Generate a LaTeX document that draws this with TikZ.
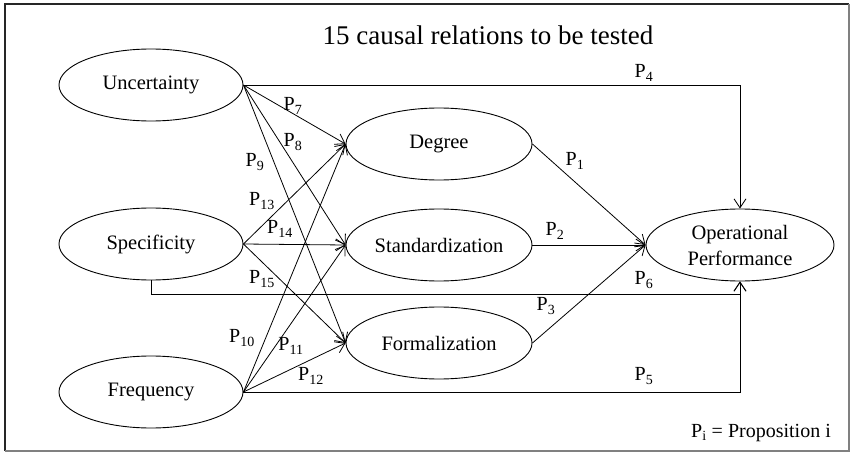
\documentclass[tikz,border=0pt]{standalone}
\usepackage{fontspec}
\setmainfont{Liberation Serif}
\usetikzlibrary{shapes.geometric,arrows.meta}
\begin{document}
\begin{tikzpicture}[x=1pt,y=-1pt,
  oval/.style={ellipse,draw,line width=0.9pt,minimum width=184pt,minimum height=72pt,inner sep=0pt,font=\fontsize{20.5}{26}\selectfont},
  arr/.style={line width=0.8pt,-{Straight Barb[length=9pt,width=12pt,line width=0.8pt]}},
  lbl/.style={inner sep=0pt,font=\fontsize{20}{24}\selectfont}]
\useasboundingbox (0,0) rectangle (852,452);
% frame
\draw[line width=2pt,black!85] (5,451) -- (5,4) -- (849,4);
\draw[line width=1.5pt,black!50] (849,4) -- (849,451) -- (5,451);
% title
\node[inner sep=0pt,font=\fontsize{27}{30}\selectfont] (title) at (488,35) {15 causal relations to be tested};
% nodes
\node[oval] (U) at (151,85) {Uncertainty};
\node[oval] (S) at (151,244) {Specificity};
\node[oval] (F) at (151,392) {Frequency};
\node[oval,minimum width=186pt] (D) at (439,144) {Degree};
\node[oval,minimum width=186pt] (St) at (439,245) {Standardization};
\node[oval,minimum width=186pt] (Fo) at (439,343) {Formalization};
\node[oval,minimum width=188pt,align=center] (O) at (740,245) {Operational\\Performance};
% direct effects
\draw[arr] (U.east) -- (U.east -| O.north) -- (O.north);
\draw[arr] (F.east) -- (F.east -| O.south) -- (O.south);
\path (S.south) ++(0,14) coordinate (c6);
\draw[arr] (S.south) -- (c6) -- (c6 -| O.south) -- (O.south);
% mediators to outcome
\draw[arr] (D.east) -- (O.west);
\draw[arr] (St.east) -- (O.west);
\draw[arr] (Fo.east) -- (O.west);
% antecedents to mediators
\foreach \a in {U,S,F}{
  \foreach \b in {D,St,Fo}{
    \draw[arr] (\a.east) -- (\b.west);
  }
}
% labels
\node[lbl] (p4) at (644,73) {P\textsubscript{4}};
\node[lbl] (p7) at (293,106) {P\textsubscript{7}};
\node[lbl] (p8) at (293,142) {P\textsubscript{8}};
\node[lbl] (p9) at (255,162) {P\textsubscript{9}};
\node[lbl] (p13) at (262,201) {P\textsubscript{13}};
\node[lbl] (p14) at (280,229) {P\textsubscript{14}};
\node[lbl] (p15) at (262,279) {P\textsubscript{15}};
\node[lbl] (p10) at (242,338) {P\textsubscript{10}};
\node[lbl] (p11) at (291,346) {P\textsubscript{11}};
\node[lbl] (p12) at (311,376) {P\textsubscript{12}};
\node[lbl] (p1) at (575,161) {P\textsubscript{1}};
\node[lbl] (p2) at (555,231) {P\textsubscript{2}};
\node[lbl] (p3) at (546,306) {P\textsubscript{3}};
\node[lbl] (p6) at (644,280) {P\textsubscript{6}};
\node[lbl] (p5) at (644,376) {P\textsubscript{5}};
\node[lbl,anchor=east] (key) at (831,433) {P\textsubscript{i} = Proposition i};
\end{tikzpicture}
\end{document}
